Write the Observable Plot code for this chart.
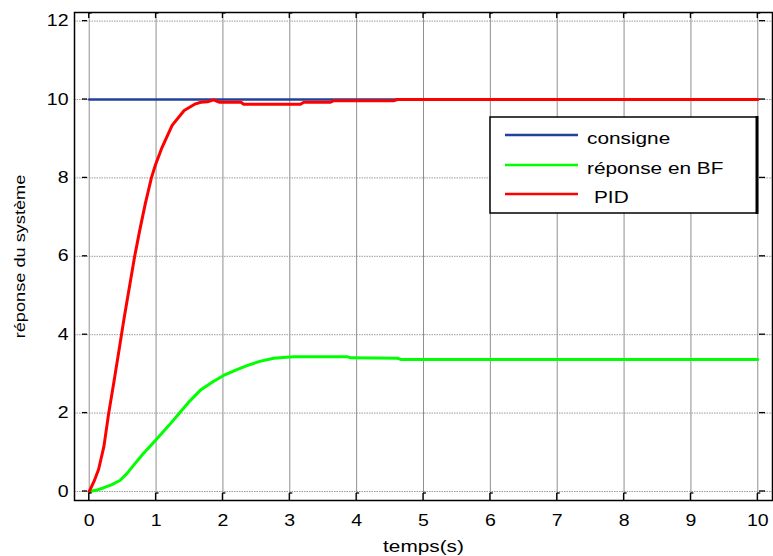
<!DOCTYPE html>
<html>
<head>
<meta charset="utf-8">
<script src="https://cdn.jsdelivr.net/npm/d3@7"></script>
<script src="https://cdn.jsdelivr.net/npm/@observablehq/plot@0.6"></script>
<style>
  html, body { margin: 0; padding: 0; background: white; }
  svg { display: block; }
</style>
</head>
<body>
<div id="chart"></div>
<script>
// ---- data ----
const xTicks = [0, 1, 2, 3, 4, 5, 6, 7, 8, 9, 10];
const yTicks = [0, 2, 4, 6, 8, 10, 12];

const seriesNames = ["consigne", "réponse en BF", "PID"];
const seriesColors = ["#23419b", "#00ff00", "#ff0000"];

const tConsigne = [0, 10];
const yConsigne = [10, 10];

const tBF = [0, 0.1, 0.21, 0.33, 0.46, 0.56, 0.66, 0.8, 1.01, 1.2, 1.36, 1.5, 1.66, 1.85, 2.01, 2.2, 2.36, 2.55, 2.76, 2.9, 3.06, 3.86, 3.91, 4.61, 4.66, 10];
const yBF = [0, 0.03, 0.09, 0.17, 0.28, 0.45, 0.66, 0.95, 1.34, 1.7, 2.02, 2.3, 2.58, 2.8, 2.96, 3.1, 3.21, 3.32, 3.40, 3.42, 3.44, 3.44, 3.41, 3.40, 3.37, 3.37];

const tPID = [0, 0.07, 0.14, 0.22, 0.29, 0.37, 0.45, 0.52, 0.59, 0.68, 0.76, 0.84, 0.93, 0.99, 1.09, 1.24, 1.42, 1.59, 1.67, 1.77, 1.86, 1.95, 2.27, 2.31, 3.16, 3.21, 3.61, 3.66, 4.56, 4.61, 10];
const yPID = [0, 0.25, 0.56, 1.15, 1.98, 2.8, 3.65, 4.4, 5.1, 6.0, 6.7, 7.35, 8.0, 8.33, 8.78, 9.34, 9.72, 9.89, 9.93, 9.94, 9.99, 9.93, 9.93, 9.88, 9.88, 9.93, 9.93, 9.97, 9.97, 10.0, 10.0];

const xLabel = "temps(s)";
const yLabel = "réponse du système";

// ---- build tables ----
const consigne = tConsigne.map((t, i) => ({t, v: yConsigne[i]}));
const bf = tBF.map((t, i) => ({t, v: yBF[i]}));
const pid = tPID.map((t, i) => ({t, v: yPID[i]}));

const FONT = "'Liberation Sans', Arial, sans-serif";

const plot = Plot.plot({
  width: 773,
  height: 556,
  marginLeft: 74,
  marginRight: 1,
  marginTop: 12,
  marginBottom: 56,
  style: {fontFamily: FONT, fontSize: "16px", color: "black", background: "white", overflow: "visible"},
  x: {domain: [-0.22, 10.22]},
  y: {domain: [-0.23, 12.22]},
  marks: [
    Plot.ruleX(xTicks, {stroke: "#8f8f8f", strokeWidth: 1}),
    Plot.ruleY(yTicks, {stroke: "#9a9a9a", strokeWidth: 1, strokeDasharray: "1.5,1"}),
    Plot.line(consigne, {x: "t", y: "v", stroke: seriesColors[0], strokeWidth: 2.6}),
    Plot.line(bf, {x: "t", y: "v", stroke: seriesColors[1], strokeWidth: 3}),
    Plot.line(pid, {x: "t", y: "v", stroke: seriesColors[2], strokeWidth: 3}),
    Plot.frame({stroke: "black", strokeWidth: 1.5}),
    Plot.axisX(xTicks, {tickSize: 0, tickPadding: 14, label: null, fontSize: 16}),
    Plot.axisY(yTicks, {tickSize: 0, tickPadding: 6, label: null, fontSize: 16}),
    Plot.text([xLabel], {frameAnchor: "bottom", dy: 46, fontSize: 16, textAnchor: "middle", lineAnchor: "middle"}),
    Plot.text([yLabel], {frameAnchor: "left", rotate: -90, dx: -54, fontSize: 14, textAnchor: "middle", lineAnchor: "middle"})
  ]
});

document.getElementById("chart").appendChild(plot);

// horizontally stretched text, as in the reference
function stretch(sel, k) {
  sel.each(function() {
    const el = d3.select(this);
    let tr = el.attr("transform");
    if (!tr) {
      const x = +el.attr("x") || 0, y = +el.attr("y") || 0;
      el.attr("x", null).attr("y", null);
      tr = `translate(${x},${y})`;
    }
    el.attr("transform", tr + ` scale(${k},1)`);
  });
}
const svg = d3.select(plot);
stretch(svg.selectAll('g[aria-label="x-axis tick label"] text'), 1.22);
stretch(svg.selectAll('g[aria-label="y-axis tick label"] text'), 1.22);
svg.selectAll("text").filter(function() { return d3.select(this).text() === xLabel; })
  .each(function() { stretch(d3.select(this), 1.3); });
svg.selectAll("text").filter(function() { return d3.select(this).text() === yLabel; })
  .attr("font-size", 14).style("font-size", "14px")
  .each(function() { stretch(d3.select(this), 1.3); });

// inward tick marks
const sx = plot.scale("x"), sy = plot.scale("y");
const X0 = sx.apply(-0.22), X1 = sx.apply(10.22), Y0 = sy.apply(-0.23), Y1 = sy.apply(12.22);
const tg = svg.append("g").attr("stroke", "black").attr("stroke-width", 1.3);
xTicks.forEach(v => {
  const x = sx.apply(v);
  tg.append("line").attr("x1", x).attr("x2", x).attr("y1", Y0).attr("y2", Y0 - 7);
  tg.append("line").attr("x1", x).attr("x2", x + 3).attr("y1", Y0 - 7).attr("y2", Y0 - 7);
  tg.append("line").attr("x1", x).attr("x2", x).attr("y1", Y1).attr("y2", Y1 + 6);
  tg.append("line").attr("x1", x).attr("x2", x + 3).attr("y1", Y1 + 1).attr("y2", Y1 + 1);
});
yTicks.forEach(v => {
  const y = sy.apply(v);
  tg.append("line").attr("x1", X0 + 8).attr("x2", X0 + 13).attr("y1", y).attr("y2", y);
  tg.append("line").attr("x1", X1 - 13).attr("x2", X1 - 7).attr("y1", y).attr("y2", y);
});

// legend
const lg = svg.append("g");
const LX = 490, LY = 117, LW = 267, LH = 96;
lg.append("rect").attr("x", LX).attr("y", LY).attr("width", LW).attr("height", LH)
  .attr("fill", "white").attr("stroke", "black").attr("stroke-width", 1.5);
lg.append("line").attr("x1", LX + LW).attr("x2", LX + LW).attr("y1", LY - 1).attr("y2", LY + LH + 1)
  .attr("stroke", "black").attr("stroke-width", 3);
const rowY = [135, 165, 194];
seriesNames.forEach((name, i) => {
  lg.append("line").attr("x1", 505).attr("x2", 578).attr("y1", rowY[i]).attr("y2", rowY[i])
    .attr("stroke", seriesColors[i]).attr("stroke-width", 2.5);
  lg.append("text").attr("font-family", FONT).attr("font-size", 16).attr("fill", "black")
    .attr("text-anchor", "start")
    .attr("transform", `translate(${i === 2 ? 594 : 587},${rowY[i] + 9}) scale(1.3,1)`)
    .text(name);
});
</script>
</body>
</html>
